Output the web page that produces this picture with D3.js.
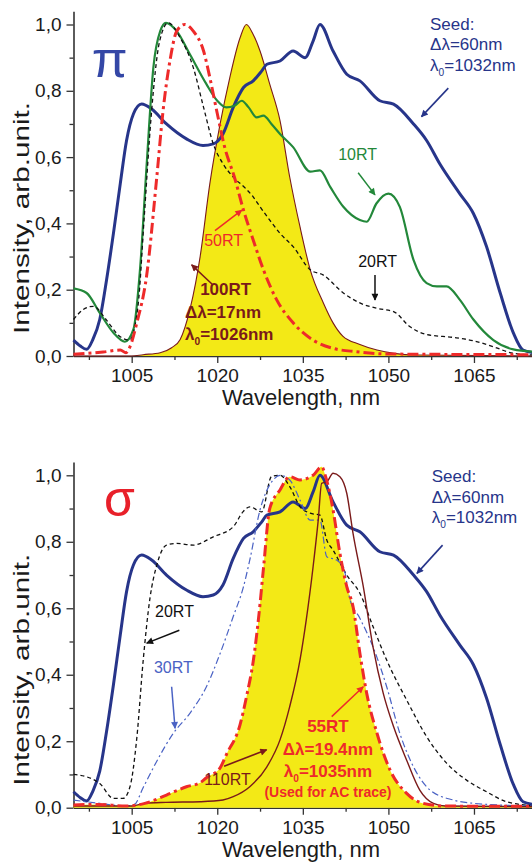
<!DOCTYPE html>
<html><head><meta charset="utf-8">
<script src="https://cdn.jsdelivr.net/npm/d3@7"></script>
<style>
body{margin:0;background:#fff}
svg{display:block}
text{font-family:Arial,"Liberation Sans",sans-serif}
</style>
</head><body>
<svg id="chart" width="532" height="863"></svg>
<script>
// ---------------- DATA ----------------
// Seed spectrum (same in both panels)
const seedWl  = [994.8,996,997.1,998.2,999.4,1000.6,1001.8,1003,1004.1,1005.3,1006.75,1008.5,1011.1,1014.6,1017.5,1019.3,1021,1022.8,1024.6,1026.3,1027.8,1028.7,1031,1033.3,1035.4,1036.8,1038,1040.3,1042.7,1045,1048.5,1050.9,1054.4,1056.7,1059,1062.5,1064.9,1067.2,1069.6,1071.9,1073.6,1075.4];
const seedVal = [0.048,0.03,0.02,0.05,0.11,0.23,0.37,0.52,0.65,0.73,0.76,0.745,0.70,0.655,0.635,0.64,0.67,0.75,0.81,0.83,0.86,0.88,0.89,0.92,0.90,0.95,1.0,0.92,0.85,0.83,0.77,0.76,0.70,0.65,0.58,0.49,0.43,0.33,0.19,0.07,0.018,0.01];

// Top panel (pi)
const rt10Wl  = [994.8,997.1,999.4,1001.8,1003.8,1005.3,1006.5,1007.6,1008.8,1010,1011,1012.9,1015.2,1018.1,1020,1021.6,1023,1024.3,1025.5,1026.9,1028.1,1029.5,1031,1033.3,1036.3,1038,1039.8,1042.1,1045,1046.2,1047.9,1050,1052,1054.4,1056.7,1058.5,1060.2,1062.5,1064.9,1068.4,1071.9,1075.4];
const rt10Val = [0.204,0.19,0.13,0.07,0.043,0.08,0.27,0.57,0.87,0.98,1.005,0.98,0.91,0.82,0.77,0.75,0.755,0.77,0.75,0.72,0.725,0.70,0.67,0.63,0.556,0.56,0.51,0.45,0.41,0.405,0.46,0.49,0.45,0.29,0.22,0.21,0.21,0.17,0.11,0.048,0.02,0.013];

const rt20aWl  = [994.8,996.5,998.3,1000.5,1003,1004.6,1006.1,1007.2,1008.4,1009.9,1011.4,1013.5,1015.8,1017.6,1019.3,1021,1022.8,1025,1026.3,1027.5,1029.2,1031,1033.3,1036.3,1038.6,1042.1,1045,1047.9,1050.9,1053.8,1056.7,1061.4,1064.9,1068.4,1071.9,1075.4];
const rt20aVal = [0.11,0.14,0.15,0.11,0.058,0.048,0.15,0.42,0.72,0.95,1.005,0.96,0.87,0.75,0.64,0.58,0.54,0.505,0.48,0.45,0.41,0.37,0.33,0.26,0.244,0.19,0.16,0.144,0.134,0.088,0.065,0.056,0.046,0.028,0.008,0.003];

const rt50Wl  = [994.8,1000,1003,1004,1004.7,1005.9,1007.6,1009.4,1010.5,1011.7,1012.9,1014.3,1015.8,1017.6,1018.7,1019.9,1021.3,1023,1024.6,1026.3,1028.1,1030.4,1033.3,1036.8,1040.3,1044.4,1050,1075.4];
const rt50Val = [0.005,0.012,0.018,0.01,0.028,0.10,0.24,0.54,0.74,0.89,0.98,1.0,0.98,0.92,0.84,0.74,0.63,0.54,0.44,0.35,0.26,0.17,0.10,0.048,0.023,0.013,0.006,0.004];

const rt100Wl  = [994.8,1005,1007,1010,1012,1013.5,1015.2,1016.2,1017,1018.7,1020.5,1022.2,1024,1025.1,1026.3,1027.5,1029.2,1031,1032.7,1034.5,1036.3,1038.6,1040.3,1042,1045,1048,1051,1055,1075.4];
const rt100Val = [0,0,0.004,0.01,0.025,0.05,0.14,0.22,0.30,0.52,0.70,0.84,0.96,1.0,0.97,0.92,0.82,0.71,0.54,0.39,0.26,0.16,0.10,0.06,0.035,0.018,0.008,0.003,0];

// Bottom panel (sigma)
const rt20bWl  = [994.8,997.1,999.4,1001.8,1003.5,1004.7,1005.9,1007,1008.2,1009.4,1011.1,1012.9,1015.8,1019.3,1022.8,1024.5,1025.7,1027.8,1029.5,1031,1032.7,1034.5,1036.3,1038,1039.2,1040.3,1042.7,1045,1047.3,1049.7,1053.2,1056.7,1060.2,1063.7,1067.2,1070.7,1075.4];
const rt20bVal = [0.10,0.093,0.073,0.028,0.028,0.063,0.21,0.44,0.63,0.73,0.79,0.795,0.79,0.815,0.845,0.89,0.905,0.89,0.996,1.0,0.966,0.906,0.886,0.88,0.805,0.775,0.70,0.645,0.545,0.444,0.324,0.214,0.134,0.083,0.048,0.018,0.006];

const rt30Wl  = [994.8,999.4,1004,1005.5,1007,1009.4,1012.3,1015.2,1018.1,1020.5,1022.8,1024.6,1025.7,1027.5,1029.8,1031,1032.7,1034.5,1036.3,1038,1039.2,1040.9,1042.1,1043.2,1045,1047.3,1049.7,1052,1054.4,1057.3,1061.4,1065,1075.4];
const rt30Val = [0.023,0.013,0.005,0.01,0.06,0.14,0.224,0.284,0.364,0.464,0.575,0.665,0.745,0.896,0.986,1.0,0.986,0.926,0.865,0.865,0.755,0.745,0.725,0.63,0.57,0.484,0.364,0.224,0.123,0.053,0.023,0.013,0.005];

const rt110Wl  = [994.8,1005,1007.3,1011,1017,1021,1022.8,1025.7,1028.7,1031,1032.7,1034.5,1035.6,1036.8,1037.7,1038.3,1039.2,1040.3,1041.5,1042.7,1043.8,1045.6,1047.3,1049.1,1050.9,1053.2,1055.5,1057.9,1060,1075.4];
const rt110Val = [0.005,0.005,0.013,0.016,0.018,0.023,0.033,0.063,0.123,0.204,0.304,0.444,0.565,0.725,0.865,0.976,0.98,1.006,0.996,0.946,0.825,0.665,0.484,0.344,0.244,0.143,0.053,0.013,0.005,0.003];

const rt55Wl  = [994.8,999,1004,1007.3,1011.1,1014.6,1017,1018.1,1020.5,1021.6,1024,1025.2,1026.3,1027.3,1028.1,1029.2,1031,1032.7,1034.5,1036.8,1038.3,1039,1040.3,1041.5,1042.7,1043.8,1045,1046.2,1048,1050.3,1053.2,1056.1,1060,1075.4];
const rt55Val = [0.008,0.01,0.005,0.013,0.038,0.063,0.075,0.09,0.12,0.16,0.25,0.34,0.44,0.58,0.72,0.90,0.956,0.996,0.986,1.0,1.026,0.996,0.896,0.765,0.665,0.605,0.465,0.344,0.224,0.113,0.043,0.013,0.005,0.004];

// Axes
const xMajorTicks = [1005,1020,1035,1050,1065];
const xMinorTicks = [997.5,1012.5,1027.5,1042.5,1057.5,1072.5];
const yMajorTicks = [0,0.2,0.4,0.6,0.8,1.0];
const yTickLabels = ["0,0","0,2","0,4","0,6","0,8","1,0"];
const yMinorTicks = [0.1,0.3,0.5,0.7,0.9];
const xTitle = "Wavelength, nm";
const yTitle = "Intensity, arb.unit.";

// ---------------- DRAW ----------------
const svg = d3.select("#chart");
svg.append("rect").attr("width",532).attr("height",863).attr("fill","#fff");

const C = {
  seed:"#27358a", green:"#23883a", black:"#111", red:"#ee2a2a",
  yellow:"#f3e916", maroon:"#7a1a1a", blue30:"#4a62c4", axis:"#333"
};

const defs = svg.append("defs");
function marker(id,color){
  defs.append("marker").attr("id",id).attr("viewBox","0 0 10 10")
    .attr("refX",9).attr("refY",5).attr("markerWidth",9).attr("markerHeight",7)
    .attr("markerUnits","userSpaceOnUse").attr("orient","auto")
    .append("path").attr("d","M0,0L10,5L0,10Z").attr("fill",color);
}
marker("a-seed",C.seed);marker("a-green",C.green);marker("a-black",C.black);
marker("a-red",C.red);marker("a-maroon",C.maroon);marker("a-blue",C.blue30);

const x = d3.scaleLinear().domain([994.8,1075.4]).range([73.5,533.3]);

function zip(w,v){return w.map((d,i)=>({w:d,v:v[i]}));}

function panel(yPix0, yPix1){
  const y = d3.scaleLinear().domain([0,1]).range([yPix0,yPix1]);
  const g = svg.append("g");
  g.append("g").attr("transform",`translate(0,${yPix0})`)
    .call(d3.axisBottom(x).tickValues(xMajorTicks).tickSize(7).tickSizeOuter(0).tickPadding(6).tickFormat(d=>d));
  const xm = g.append("g").attr("transform",`translate(0,${yPix0})`)
    .call(d3.axisBottom(x).tickValues(xMinorTicks).tickSize(4).tickSizeOuter(0).tickFormat(""));
  xm.select(".domain").remove();
  g.append("g").attr("transform",`translate(${x.range()[0]},0)`)
    .call(d3.axisLeft(d3.scaleLinear().domain([0,1.04]).range([yPix0, y(1.04)]))
      .tickValues(yMajorTicks).tickSize(7).tickSizeOuter(0).tickPadding(5).tickFormat((d,i)=>yTickLabels[i]));
  const ym = g.append("g").attr("transform",`translate(${x.range()[0]},0)`)
    .call(d3.axisLeft(y).tickValues(yMinorTicks).tickSize(4).tickSizeOuter(0).tickFormat(""));
  ym.select(".domain").remove();
  g.selectAll(".domain").attr("stroke",C.axis).attr("stroke-width",1.6);
  g.selectAll(".tick line").attr("stroke",C.axis).attr("stroke-width",1.3);
  g.selectAll(".tick text").attr("font-size",19).attr("fill","#1a1a1a").attr("font-family","Arial, Liberation Sans, sans-serif");
  g.append("text").attr("x",301).attr("y",yPix0+49).attr("text-anchor","middle")
    .attr("font-size",22).attr("fill","#1a1a1a").text(xTitle);
  g.append("text").attr("transform",`translate(29,${yPix0-138}) rotate(-90)`)
    .attr("text-anchor","middle").attr("font-size",22).attr("fill","#1a1a1a")
    .attr("textLength",232).attr("lengthAdjust","spacingAndGlyphs").text(yTitle);
  return {g,y};
}

const line = (y)=>d3.line().x(d=>x(d.w)).y(d=>y(d.v)).curve(d3.curveMonotoneX);
const area = (y)=>d3.area().x(d=>x(d.w)).y0(y(0)).y1(d=>y(d.v)).curve(d3.curveMonotoneX);

function arrow(g,y,p0,p1,color,id,w){
  g.append("line").attr("x1",x(p0[0])).attr("y1",y(p0[1])).attr("x2",x(p1[0])).attr("y2",y(p1[1]))
   .attr("stroke",color).attr("stroke-width",w||1.5).attr("marker-end",`url(#${id})`);
}
function label(g,y,wl,v,txt,color,opts){
  opts=opts||{};
  const t=g.append("text").attr("x",x(wl)).attr("y",y(v)).attr("fill",color)
   .attr("font-size",opts.size||16).attr("font-weight",opts.bold?"bold":"normal")
   .attr("text-anchor",opts.anchor||"start");
  if(opts.sub){
    t.append("tspan").text(txt[0]);
    t.append("tspan").attr("font-size",(opts.size||16)*0.6).attr("dy",5).text(txt[1]);
    t.append("tspan").attr("dy",-5).text(txt[2]);
  } else t.text(txt);
  return t;
}

// ---- Top panel ----
const topP = panel(356,24.5);
{
  const {g,y}=topP;
  const plot=g.append("g");
  plot.append("path").datum(zip(rt100Wl,rt100Val)).attr("d",area(y)).attr("fill",C.yellow);
  plot.append("path").datum(zip(rt100Wl,rt100Val)).attr("d",line(y)).attr("fill","none").attr("stroke",C.maroon).attr("stroke-width",1.1);
  plot.append("path").datum(zip(seedWl,seedVal)).attr("d",line(y)).attr("fill","none").attr("stroke",C.seed).attr("stroke-width",3);
  plot.append("path").datum(zip(rt10Wl,rt10Val)).attr("d",line(y)).attr("fill","none").attr("stroke",C.green).attr("stroke-width",2.2);
  plot.append("path").datum(zip(rt20aWl,rt20aVal)).attr("d",line(y)).attr("fill","none").attr("stroke",C.black).attr("stroke-width",1.3).attr("stroke-dasharray","4,3");
  plot.append("path").datum(zip(rt50Wl,rt50Val)).attr("d",line(y)).attr("fill","none").attr("stroke",C.red).attr("stroke-width",3).attr("stroke-dasharray","11,4,3,4");
  g.append("text").attr("x",x(998.0)).attr("y",y(0.842)).attr("font-family","Liberation Serif, DejaVu Serif, serif")
   .attr("font-size",52).attr("fill","#3447a6").text("π");
  label(g,y,1057.3,0.983,"Seed:",C.seed,{size:17});
  label(g,y,1057.3,0.923,"Δλ=60nm",C.seed,{size:17});
  label(g,y,1057.3,0.86,["λ","0","=1032nm"],C.seed,{size:17,sub:true});
  arrow(g,y,[1060.5,0.808],[1055.8,0.722],C.seed,"a-seed",1.6);
  label(g,y,1041.2,0.591,"10RT",C.green,{size:16});
  arrow(g,y,[1044.7,0.553],[1047.65,0.486],C.green,"a-green",1.5);
  label(g,y,1044.7,0.268,"20RT",C.black,{size:16});
  arrow(g,y,[1047.65,0.244],[1047.65,0.169],C.black,"a-black",1.5);
  label(g,y,1017.7,0.332,"50RT",C.red,{size:16});
  arrow(g,y,[1019.6,0.378],[1024.3,0.44],C.red,"a-red",1.5);
  arrow(g,y,[1019.25,0.214],[1015.5,0.275],C.maroon,"a-maroon",1.5);
  label(g,y,1017,0.184,"100RT",C.maroon,{size:17,bold:true});
  label(g,y,1014.35,0.115,"Δλ=17nm",C.maroon,{size:17,bold:true});
  label(g,y,1014.35,0.048,["λ","0","=1026nm"],C.maroon,{size:17,bold:true,sub:true});
}

// ---- Bottom panel ----
const botP = panel(807.7,475.3);
{
  const {g,y}=botP;
  const plot=g.append("g");
  plot.append("path").datum(zip(rt55Wl,rt55Val)).attr("d",area(y)).attr("fill",C.yellow);
  plot.append("path").datum(zip(seedWl,seedVal)).attr("d",line(y)).attr("fill","none").attr("stroke",C.seed).attr("stroke-width",3);
  plot.append("path").datum(zip(rt20bWl,rt20bVal)).attr("d",line(y)).attr("fill","none").attr("stroke",C.black).attr("stroke-width",1.3).attr("stroke-dasharray","4,3");
  plot.append("path").datum(zip(rt30Wl,rt30Val)).attr("d",line(y)).attr("fill","none").attr("stroke",C.blue30).attr("stroke-width",1.2).attr("stroke-dasharray","7,3,2,3");
  plot.append("path").datum(zip(rt110Wl,rt110Val)).attr("d",line(y)).attr("fill","none").attr("stroke",C.maroon).attr("stroke-width",1.4);
  plot.append("path").datum(zip(rt55Wl,rt55Val)).attr("d",line(y)).attr("fill","none").attr("stroke",C.red).attr("stroke-width",3).attr("stroke-dasharray","11,4,3,4");
  g.append("text").attr("x",x(1000.15)).attr("y",y(0.878)).attr("font-family","Liberation Serif, DejaVu Serif, serif")
   .attr("font-size",50).attr("fill","#e8202a").text("σ");
  label(g,y,1057.6,0.98,"Seed:",C.seed,{size:17});
  label(g,y,1057.6,0.917,"Δλ=60nm",C.seed,{size:17});
  label(g,y,1057.6,0.857,["λ","0","=1032nm"],C.seed,{size:17,sub:true});
  arrow(g,y,[1059.5,0.79],[1055,0.705],C.seed,"a-seed",1.6);
  label(g,y,1009.1,0.574,"20RT",C.black,{size:16});
  arrow(g,y,[1013.35,0.534],[1007.63,0.495],C.black,"a-black",1.5);
  label(g,y,1008.9,0.405,"30RT",C.blue30,{size:16});
  arrow(g,y,[1012,0.364],[1012.6,0.239],C.blue30,"a-blue",1.5);
  label(g,y,1017.7,0.068,"110RT",C.maroon,{size:16});
  arrow(g,y,[1021.2,0.125],[1028.66,0.174],C.maroon,"a-maroon",1.6);
  label(g,y,1039.4,0.228,"55RT",C.red,{size:17,bold:true,anchor:"middle"});
  label(g,y,1039.4,0.159,"Δλ=19.4nm",C.red,{size:17,bold:true,anchor:"middle"});
  label(g,y,1039.4,0.092,["λ","0","=1035nm"],C.red,{size:17,bold:true,anchor:"middle",sub:true});
  label(g,y,1039.4,0.032,"(Used for AC trace)",C.red,{size:14,bold:true,anchor:"middle"});
  arrow(g,y,[1040.06,0.274],[1045.6,0.364],C.red,"a-red",1.5);
}
</script>
</body></html>
